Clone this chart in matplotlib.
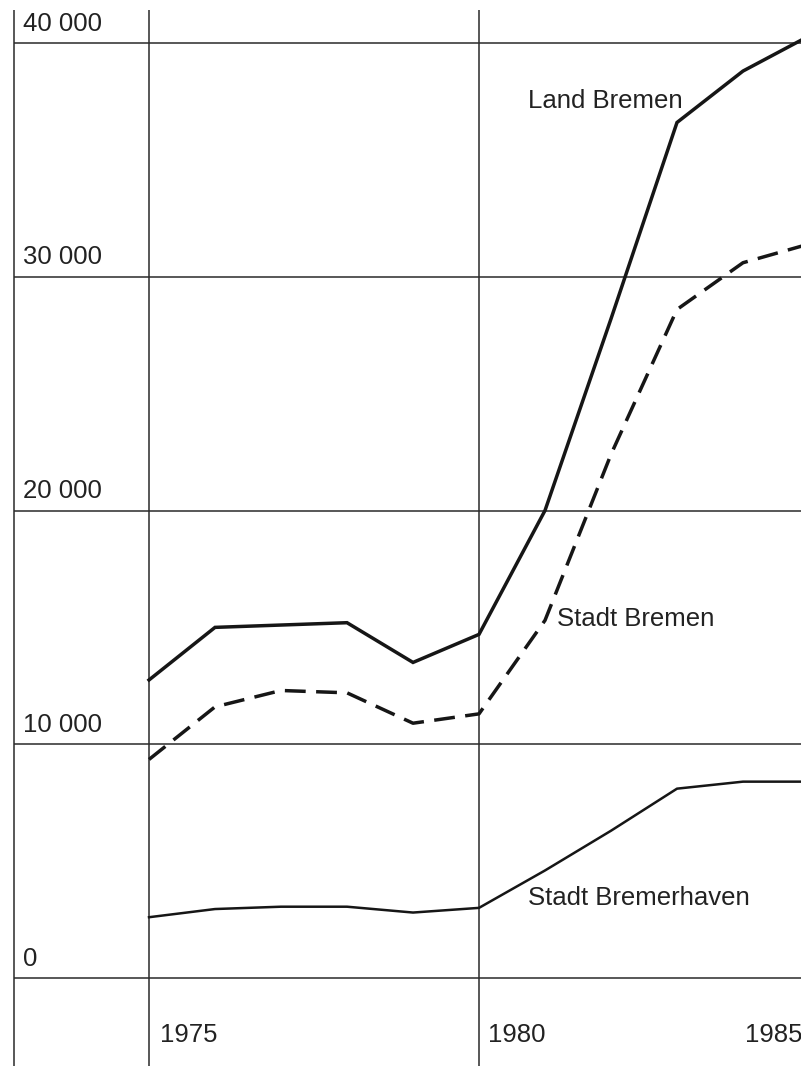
import matplotlib
matplotlib.use('Agg')
import matplotlib.pyplot as plt

# Jahre und Werte
jahre = [1975, 1976, 1977, 1978, 1979, 1980, 1981, 1982, 1983, 1984, 1985]
land_bremen = [12750, 15000, 15100, 15200, 13500, 14700, 20000, 28200, 36600, 38800, 40300]
stadt_bremen = [9350, 11600, 12300, 12200, 10900, 11300, 15300, 22400, 28600, 30600, 31400]
stadt_bremerhaven = [2600, 2950, 3050, 3050, 2800, 3000, 4600, 6300, 8100, 8400, 8400]

y_werte = [0, 10000, 20000, 30000, 40000]
y_labels = ['0', '10 000', '20 000', '30 000', '40 000']
x_jahre = [1975, 1980, 1985]
x_labels = ['1975', '1980', '1985']

plt.rcParams['font.family'] = ['Liberation Sans', 'DejaVu Sans']

fig = plt.figure(figsize=(8.01, 10.66), dpi=100)
ax = fig.add_axes([0, 0, 1, 1])
ax.set_xlim(1972.742, 1984.879)
ax.set_ylim(-3765, 41840)
ax.axis('off')

farbe = '#161616'
links = 1972.955

# Raster
ax.hlines(y_werte, links, 1990, color='#2a2a2a', linewidth=1.1)
ax.vlines([links, 1975, 1980], -5000, 41400, color='#2a2a2a', linewidth=1.1)

# Linien
ax.plot(jahre, land_bremen, color=farbe, linewidth=2.5, solid_joinstyle='miter')
ax.plot(jahre, stadt_bremen, color=farbe, linewidth=2.5, linestyle=(0, (6.0, 3.0)))
ax.plot(jahre, stadt_bremerhaven, color=farbe, linewidth=1.8)

# Achsenbeschriftung
for wert, text in zip(y_werte, y_labels):
    ax.text(links + 0.13, wert + 830, text, fontsize=18.5, color='#222222',
            ha='left', va='center')

x_pos = [1975.17, 1980.14, 1984.03]
for xp, text in zip(x_pos, x_labels):
    ax.text(xp, -2450, text, fontsize=18.5, color='#222222', ha='left', va='center')

# Reihenbeschriftung
ax.text(1980.74, 37500, 'Land Bremen', fontsize=18.5, color='#222222', va='center')
ax.text(1981.18, 15350, 'Stadt Bremen', fontsize=18.5, color='#222222', va='center')
ax.text(1980.74, 3430, 'Stadt Bremerhaven', fontsize=18.5, color='#222222', va='center')

fig.savefig('out.png', dpi=100, facecolor='white')
